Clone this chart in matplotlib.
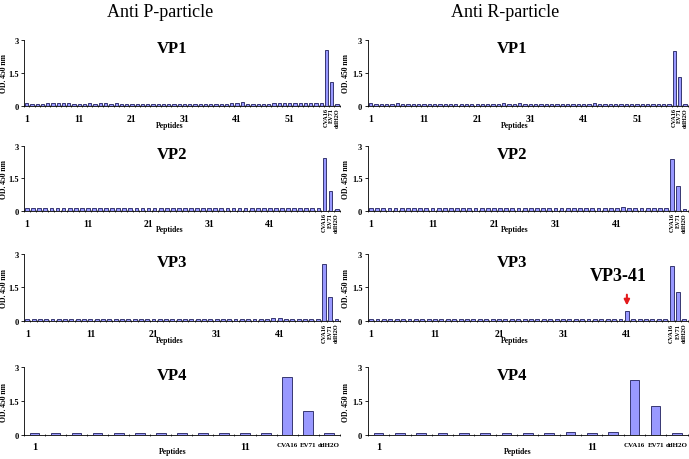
import matplotlib
matplotlib.use("Agg")
import matplotlib.pyplot as plt
import numpy as np

plt.rcParams['font.family'] = ['Liberation Serif', 'DejaVu Serif']

controls = ["CVA16", "EV71", "ddH2O"]

# OD450 per peptide, anti P-particle
p_vp1 = [0.12, 0.1, 0.1, 0.1, 0.11, 0.11, 0.12, 0.11, 0.12, 0.1, 0.1, 0.1, 0.11, 0.1, 0.12,
         0.11, 0.1, 0.11, 0.1, 0.1, 0.1, 0.1, 0.1, 0.1, 0.1, 0.1, 0.1, 0.1, 0.1, 0.1,
         0.1, 0.1, 0.1, 0.1, 0.1, 0.1, 0.1, 0.1, 0.1, 0.12, 0.13, 0.15, 0.1, 0.1, 0.1,
         0.1, 0.1, 0.11, 0.12, 0.12, 0.12, 0.12, 0.13, 0.12, 0.12, 0.12, 0.12]
p_vp1_ctrl = [2.55, 1.08, 0.06]
p_vp2 = [0.1] * 8 + [0.11, 0.1, 0.1, 0.11, 0.1, 0.1, 0.1, 0.1, 0.11, 0.1, 0.1, 0.1,
         0.1, 0.1, 0.1, 0.1, 0.1, 0.1, 0.1, 0.1, 0.11, 0.1, 0.1, 0.1, 0.1, 0.1, 0.1,
         0.1, 0.1, 0.11, 0.12, 0.11, 0.1, 0.1, 0.1, 0.1, 0.1, 0.1, 0.1, 0.1, 0.12]
p_vp2_ctrl = [2.44, 0.92, 0.08]
p_vp3 = [0.1, 0.1, 0.1, 0.11, 0.1, 0.1, 0.1, 0.1, 0.1, 0.1, 0.1, 0.1, 0.1, 0.1, 0.1,
         0.1, 0.11, 0.1, 0.1, 0.11, 0.1, 0.1, 0.1, 0.11, 0.1, 0.1, 0.1, 0.1, 0.1, 0.1,
         0.1, 0.1, 0.1, 0.1, 0.1, 0.1, 0.1, 0.1, 0.1, 0.14, 0.12, 0.1, 0.1, 0.1, 0.11,
         0.1, 0.1]
p_vp3_ctrl = [2.55, 1.07, 0.08]
p_vp4 = [0.1, 0.11, 0.11, 0.11, 0.11, 0.11, 0.11, 0.09, 0.09, 0.11, 0.11, 0.11]
p_vp4_ctrl = [2.56, 1.06, 0.1]

# OD450 per peptide, anti R-particle
r_vp1 = [0.12, 0.1, 0.1, 0.1, 0.1, 0.11, 0.1, 0.1, 0.1, 0.1, 0.1, 0.1, 0.1, 0.1, 0.1,
         0.1, 0.1, 0.1, 0.1, 0.1, 0.1, 0.1, 0.1, 0.1, 0.1, 0.11, 0.1, 0.1, 0.12, 0.1,
         0.1, 0.1, 0.1, 0.1, 0.1, 0.1, 0.1, 0.1, 0.1, 0.1, 0.1, 0.1, 0.12, 0.1, 0.1,
         0.1, 0.1, 0.1, 0.1, 0.1, 0.1, 0.1, 0.1, 0.1, 0.1, 0.1, 0.1]
r_vp1_ctrl = [2.5, 1.32, 0.06]
r_vp2 = [0.14, 0.12, 0.11, 0.1, 0.1, 0.1, 0.1, 0.11, 0.1, 0.1, 0.1, 0.1, 0.1, 0.1, 0.1,
         0.1, 0.1, 0.1, 0.1, 0.12, 0.1, 0.1, 0.1, 0.1, 0.1, 0.1, 0.14, 0.1, 0.1, 0.1,
         0.1, 0.1, 0.1, 0.1, 0.1, 0.1, 0.1, 0.1, 0.1, 0.1, 0.1, 0.15, 0.1, 0.1, 0.1,
         0.1, 0.1, 0.1, 0.11]
r_vp2_ctrl = [2.42, 1.13, 0.08]
r_vp3 = [0.1, 0.1, 0.1, 0.1, 0.1, 0.1, 0.1, 0.1, 0.1, 0.1, 0.1, 0.1, 0.1, 0.1, 0.1,
         0.1, 0.1, 0.1, 0.1, 0.1, 0.1, 0.1, 0.1, 0.1, 0.1, 0.1, 0.1, 0.1, 0.1, 0.1,
         0.1, 0.1, 0.1, 0.1, 0.1, 0.1, 0.1, 0.1, 0.1, 0.1, 0.45, 0.1, 0.1, 0.1, 0.1,
         0.1, 0.1]
r_vp3_ctrl = [2.46, 1.3, 0.07]
r_vp4 = [0.1, 0.1, 0.1, 0.1, 0.11, 0.11, 0.11, 0.1, 0.1, 0.14, 0.11, 0.14]
r_vp4_ctrl = [2.43, 1.26, 0.09]

panels = [
    ("VP1", p_vp1, p_vp1_ctrl, r_vp1, r_vp1_ctrl),
    ("VP2", p_vp2, p_vp2_ctrl, r_vp2, r_vp2_ctrl),
    ("VP3", p_vp3, p_vp3_ctrl, r_vp3, r_vp3_ctrl),
    ("VP4", p_vp4, p_vp4_ctrl, r_vp4, r_vp4_ctrl),
]

fig = plt.figure(figsize=(6.89, 4.60), dpi=100)

rows_y = [(0.768, 0.143), (0.540, 0.140), (0.300, 0.146), (0.052, 0.148)]
cols_x = [(0.035, 0.458), (0.534, 0.464)]

fig.text(0.232, 0.972, "Anti P-particle", ha='center', va='center', fontsize=13)
fig.text(0.733, 0.972, "Anti R-particle", ha='center', va='center', fontsize=13)


def draw(ax, name, pep, ctrl, small, title_x, ylab_x):
    vals = list(pep) + list(ctrl)
    n = len(vals)
    x = np.arange(1, n + 1)
    ax.bar(x, vals, width=0.62 if small else 0.45, color='#9999ff',
           edgecolor='#1f1f5c', linewidth=0.6)
    ax.set_xlim(0.5, n + 0.5)
    ax.set_ylim(0, 3)
    ax.set_yticks([0, 1.5, 3])
    ax.set_yticklabels(["0", "1.5", "3"], fontsize=6, fontweight='bold')
    ax.spines['top'].set_visible(False)
    ax.spines['right'].set_visible(False)
    ax.spines['left'].set_linewidth(0.6)
    ax.spines['bottom'].set_linewidth(0.6)
    ax.tick_params(axis='y', length=2, width=0.6, pad=2)
    ax.set_xticks(np.arange(0.5, n + 1, 1), minor=True)
    ax.tick_params(axis='x', which='minor', length=2, width=0.5, direction='inout')
    npep = len(pep)
    major = list(range(1, npep + 1, 10))
    if small:
        ax.set_xticks(major)
        ax.set_xticklabels([str(m) for m in major], fontsize=7, fontweight='bold')
        ax.tick_params(axis='x', which='major', length=0, pad=6)
        for i, c in enumerate(ctrl):
            ax.text(npep + 1 + i, -0.08, controls[i], rotation=90, ha='center',
                    va='top', fontsize=4.5, fontweight='bold')
        ax.text(0.46, -0.29, "Peptides", transform=ax.transAxes, ha='center',
                va='center', fontsize=5.5, fontweight='bold')
    else:
        ticks = major + [npep + 1, npep + 2, npep + 3]
        ax.set_xticks(ticks)
        ax.set_xticklabels([str(m) for m in major] + controls, fontsize=5,
                           fontweight='bold')
        for lab in ax.get_xticklabels()[:len(major)]:
            lab.set_fontsize(7.5)
        ax.tick_params(axis='x', which='major', length=0, pad=5)
        ax.text(0.47, -0.24, "Peptides", transform=ax.transAxes, ha='center',
                va='center', fontsize=5.5, fontweight='bold')
    ax.set_ylabel("OD. 450 nm", fontsize=5.5, fontweight='bold')
    ax.yaxis.set_label_coords(ylab_x, 0.5)
    ax.text(title_x, 1.0, name, transform=ax.transAxes, ha='center', va='top',
            fontsize=12, fontweight='bold')


for r, (name, pv, pc, rv, rc) in enumerate(panels):
    bottom, h = rows_y[r]
    small = name != "VP4"
    axl = fig.add_axes([cols_x[0][0], bottom, cols_x[0][1], h])
    draw(axl, name, pv, pc, small, 0.468, -0.05)
    axr = fig.add_axes([cols_x[1][0], bottom, cols_x[1][1], h])
    draw(axr, name, rv, rc, small, 0.45, -0.055)
    if name == "VP3":
        axr.text(39.6, 2.05, "VP3-41", ha='center', va='center', fontsize=13,
                 fontweight='bold')
        axr.annotate("", xy=(41, r_vp3[40] + 0.12), xytext=(41, r_vp3[40] + 0.85),
                     arrowprops=dict(arrowstyle='-|>', color='#e31a1c', lw=1.5,
                                     mutation_scale=8))

fig.savefig("out.png", dpi=100)
